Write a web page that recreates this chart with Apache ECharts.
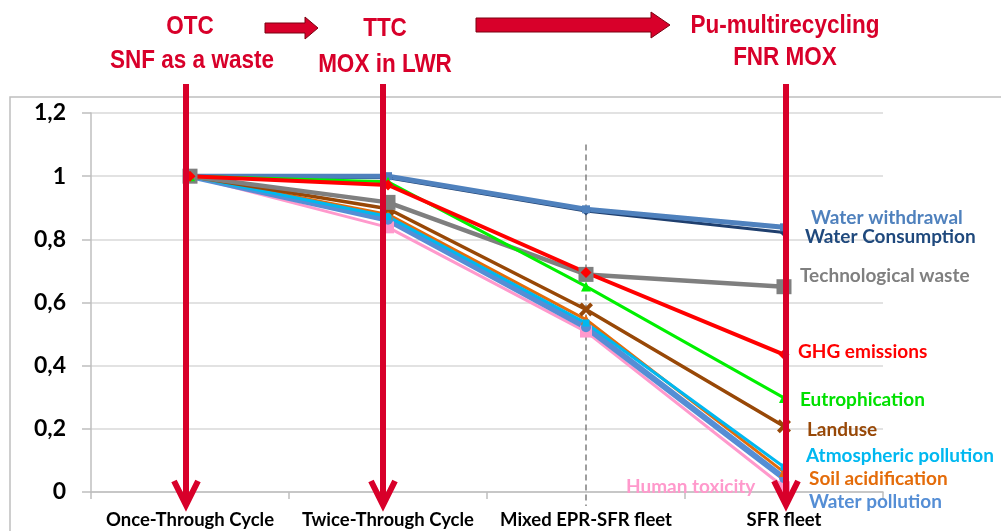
<!DOCTYPE html>
<html><head><meta charset="utf-8">
<script src="https://cdn.jsdelivr.net/npm/echarts@6/dist/echarts.min.js"></script>
<style>html,body{margin:0;padding:0;background:#fff}#c{width:1001px;height:531px}</style>
</head><body><div id="c"></div>
<script>
const categories = ['Once-Through Cycle', 'Twice-Through Cycle', 'Mixed EPR-SFR fleet', 'SFR fleet'];
const yMin = 0, yMax = 1.2, yStep = 0.2;

const waterWithdrawal   = [1, 1.0,   0.895, 0.838];
const waterConsumption  = [1, 0.995, 0.89,  0.822];
const technologicalWaste= [1, 0.917, 0.689, 0.65];
const ghgEmissions      = [1, 0.972, 0.695, 0.435];
const eutrophication    = [1, 0.982, 0.651, 0.298];
const landuse           = [1, 0.897, 0.578, 0.208];
const atmospheric       = [1, 0.872, 0.535, 0.079];
const soilAcid          = [1, 0.879, 0.546, 0.063];
const waterPollution    = [1, 0.862, 0.522, 0.044];
const humanToxicity     = [1, 0.838, 0.508, 0.015];

const seriesNames = ['Water withdrawal','Water Consumption','Technological waste','GHG emissions','Eutrophication','Landuse','Atmospheric pollution','Soil acidification','Water pollution','Human toxicity'];
const seriesData = [waterWithdrawal, waterConsumption, technologicalWaste, ghgEmissions, eutrophication, landuse, atmospheric, soilAcid, waterPollution, humanToxicity];
const seriesColors = ['#4F81BD','#1F3F6E','#7F7F7F','#FF0000','#00F000','#984807','#00B8F0','#E46C0A','#558ED5','#FF99CC'];
const labelColors  = ['#4F81BD','#1F497D','#7F7F7F','#FF0000','#00E000','#984807','#00B8F0','#E46C0A','#558ED5','#FF99CC'];

const XSYM = 'path://M2,0 L5,3 L8,0 L10,2 L7,5 L10,8 L8,10 L5,7 L2,10 L0,8 L3,5 L0,2 Z';
const styles = [
  {w:5, sym:'rect', size:8},
  {w:3, sym:'diamond', size:9},
  {w:4.5, sym:'rect', size:15},
  {w:4, sym:'diamond', size:11},
  {w:3, sym:'triangle', size:10},
  {w:3.5, sym:XSYM, size:14},
  {w:3, sym:'rect', size:7},
  {w:3, sym:'triangle', size:10},
  {w:6, sym:'circle', size:10},
  {w:3, sym:'rect', size:12}
];
const drawOrder = [9,8,7,6,1,0,5,2,4,3];

const chart = echarts.init(document.getElementById('c'), null, {renderer:'canvas'});
const font = 'Lato, "Open Sans", sans-serif';

const series = drawOrder.map(i => ({
  name: seriesNames[i], type:'line', data: seriesData[i],
  symbol: styles[i].sym, symbolSize: styles[i].size, showSymbol:true,
  lineStyle:{color: seriesColors[i], width: styles[i].w},
  itemStyle:{color: seriesColors[i]},
  emphasis:{disabled:true}, animation:false, z: 2
}));

chart.setOption({
  animation:false,
  grid:{left:91, right:118, top:113, bottom:39, containLabel:false, outerBoundsMode:'none'},
  xAxis:{type:'category', data:categories, boundaryGap:true,
    axisLine:{lineStyle:{color:'#BFBFBF', width:1.5}},
    axisTick:{show:true, length:7, lineStyle:{color:'#BFBFBF', width:1.5}},
    axisLabel:{color:'#000', fontWeight:'bold', fontSize:18.5, fontFamily:font, margin:19, interval:0},
    splitLine:{show:false}},
  yAxis:{type:'value', min:yMin, max:yMax, interval:yStep,
    axisLine:{show:true, lineStyle:{color:'#BFBFBF', width:1.5}},
    axisTick:{show:true, length:9, lineStyle:{color:'#BFBFBF', width:1.5}},
    axisLabel:{color:'#000', fontWeight:'bold', fontSize:23, fontFamily:font, margin:25,
      formatter: v => String(+v.toFixed(1)).replace('.', ',')},
    splitLine:{show:true, lineStyle:{color:'#D9D9D9', width:1.5}}},
  series: series
});

const RED = '#D8002A';
function build(){
  const px = i => chart.convertToPixel({xAxisIndex:0}, categories[i]);
  const py = v => chart.convertToPixel({yAxisIndex:0}, v);
  const g = [];
  g.push({type:'rect', shape:{x:10, y:97, width:1100, height:500}, style:{fill:'none', stroke:'#BFBFBF', lineWidth:1.5}, z:0, silent:true});
  const xm = px(2);
  g.push({type:'line', shape:{x1:xm, y1:py(1.1), x2:xm, y2:py(0)+14}, style:{stroke:'#7F7F7F', lineWidth:1.5, lineDash:[6,4]}, z:1});
  [[0,-4],[1,-5],[3,2]].forEach(([i,off]) => {
    const x = px(i) + off, tip = py(0) + 13;
    g.push({type:'line', shape:{x1:x, y1:84, x2:x, y2:tip-2}, style:{stroke:RED, lineWidth:6}, z:20});
    g.push({type:'polyline', shape:{points:[[x-12, tip-24],[x, tip],[x+12, tip-24]]}, style:{stroke:RED, lineWidth:6, fill:'none', lineJoin:'miter'}, z:20});
  });
  g.push({type:'polygon', shape:{points:[[265,23],[305,23],[305,17],[318,28],[305,39],[305,33],[265,33]]}, style:{fill:RED, stroke:'#7A0010', lineWidth:1}, z:20});
  g.push({type:'polygon', shape:{points:[[476,18],[651,18],[651,12],[670,25],[651,38],[651,32],[476,32]]}, style:{fill:RED, stroke:'#7A0010', lineWidth:1}, z:20});
  const tf = '"Liberation Sans Narrow", "Liberation Sans", Arial, sans-serif';
  const tops = [['OTC',190,27],['SNF as a waste',192,61],['TTC',385,29],['MOX in LWR',385,65],['Pu-multirecycling',785,26],['FNR MOX',785,58]];
  tops.forEach(([t,x,y]) => g.push({type:'text', x:x, y:y, scaleX:0.9, style:{text:t, fill:RED, font:'bold 25px ' + tf, align:'center', verticalAlign:'middle'}, z:21}));
  const lab = [[811,218],[805,237],[800,276],[798,352],[800,400],[807,430],[806,456],[809,479],[809,502],[626,487]];
  lab.forEach(([x,y],i) => g.push({type:'text', x:x, y:y, style:{text:seriesNames[i], fill:labelColors[i], font:'bold 19px ' + font, align:'left', verticalAlign:'middle'}, z:22}));
  chart.setOption({graphic:g});
}
build();
</script>
</body></html>
